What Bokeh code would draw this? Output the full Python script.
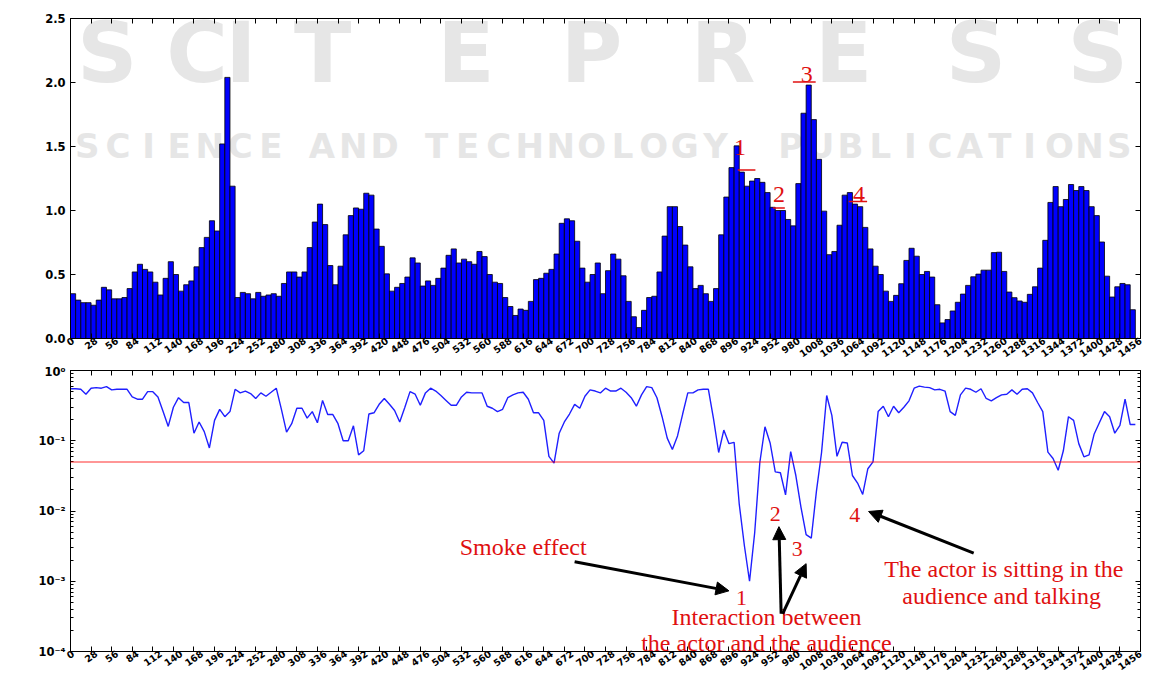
import math
from bokeh.plotting import figure
from bokeh.layouts import column
from bokeh.models import (FixedTicker, LinearAxis, LogAxis, Range1d, Label, Arrow,
                          NormalHead, Span, CustomJSTickFormatter, NumeralTickFormatter)
from bokeh.embed import file_html
from bokeh.resources import INLINE

# ---------------- data ----------------
STEP = 7  # frames per window

bar_values = [
    0.35, 0.30, 0.28, 0.28, 0.26, 0.30, 0.40, 0.38, 0.31, 0.31,
    0.32, 0.39, 0.52, 0.58, 0.54, 0.52, 0.44, 0.34, 0.47, 0.60,
    0.50, 0.37, 0.42, 0.45, 0.56, 0.71, 0.79, 0.92, 0.84, 1.52,
    2.04, 1.19, 0.32, 0.36, 0.35, 0.31, 0.36, 0.33, 0.34, 0.35,
    0.33, 0.43, 0.52, 0.52, 0.48, 0.52, 0.71, 0.91, 1.05, 0.89,
    0.57, 0.42, 0.565, 0.81, 0.96, 1.02, 1.01, 1.135, 1.12, 0.855,
    0.72, 0.505, 0.37, 0.40, 0.43, 0.48, 0.63, 0.59, 0.41, 0.45,
    0.415, 0.47, 0.55, 0.65, 0.70, 0.59, 0.62, 0.60, 0.58, 0.68,
    0.64, 0.50, 0.44, 0.43, 0.32, 0.25, 0.18, 0.23, 0.22, 0.29,
    0.46, 0.47, 0.51, 0.54, 0.66, 0.90, 0.935, 0.92, 0.76, 0.55,
    0.44, 0.50, 0.59, 0.35, 0.53, 0.66, 0.62, 0.49, 0.29, 0.17,
    0.085, 0.22, 0.32, 0.33, 0.52, 0.80, 1.03, 1.03, 0.875, 0.73,
    0.56, 0.39, 0.415, 0.35, 0.29, 0.39, 0.81, 1.105, 1.335, 1.505,
    1.30, 1.19, 1.23, 1.25, 1.22, 1.14, 1.025, 1.0, 1.0, 0.93,
    0.88, 1.21, 1.76, 1.98, 1.71, 1.40, 0.995, 0.655, 0.68, 0.885,
    1.12, 1.14, 1.05, 1.03, 0.868, 0.70, 0.565, 0.50, 0.37, 0.29,
    0.337, 0.428, 0.61, 0.705, 0.643, 0.50, 0.524, 0.48, 0.264, 0.122,
    0.148, 0.215, 0.283, 0.347, 0.415, 0.482, 0.503, 0.534, 0.534, 0.671,
    0.674, 0.524, 0.363, 0.319, 0.293, 0.283, 0.345, 0.404, 0.55, 0.767,
    1.063, 1.187, 1.03, 1.086, 1.203, 1.156, 1.187, 1.156, 1.03, 0.96,
    0.754, 0.487, 0.324, 0.404, 0.43, 0.42, 0.225,
]

line_values = [
    0.55, 0.55, 0.54, 0.46, 0.56, 0.57, 0.56, 0.59, 0.53, 0.54,
    0.54, 0.54, 0.42, 0.39, 0.39, 0.50, 0.50, 0.42, 0.26, 0.16,
    0.30, 0.41, 0.35, 0.35, 0.128, 0.185, 0.135, 0.079, 0.195, 0.28,
    0.22, 0.26, 0.54, 0.48, 0.51, 0.47, 0.40, 0.48, 0.43, 0.49,
    0.56, 0.28, 0.133, 0.175, 0.29, 0.29, 0.21, 0.26, 0.18, 0.375,
    0.236, 0.236, 0.175, 0.10, 0.10, 0.163, 0.063, 0.072, 0.24, 0.25,
    0.33, 0.40, 0.33, 0.27, 0.185, 0.30, 0.50, 0.46, 0.32, 0.48,
    0.56, 0.51, 0.44, 0.375, 0.32, 0.32, 0.42, 0.49, 0.48, 0.48,
    0.48, 0.31, 0.29, 0.26, 0.28, 0.41, 0.45, 0.48, 0.49, 0.39,
    0.25, 0.25, 0.195, 0.060, 0.048, 0.128, 0.185, 0.24, 0.33, 0.29,
    0.43, 0.53, 0.51, 0.48, 0.56, 0.51, 0.51, 0.56, 0.49, 0.41,
    0.31, 0.45, 0.59, 0.57, 0.41, 0.22, 0.109, 0.075, 0.117, 0.24,
    0.48, 0.48, 0.53, 0.54, 0.54, 0.205, 0.068, 0.142, 0.091, 0.095,
    0.0125, 0.0032, 0.001, 0.0049, 0.049, 0.158, 0.093, 0.036, 0.035, 0.017,
    0.070, 0.032, 0.0113, 0.0046, 0.0041, 0.019, 0.068, 0.44, 0.23, 0.060,
    0.095, 0.093, 0.032, 0.025, 0.0172, 0.040, 0.050, 0.26, 0.31, 0.22,
    0.31, 0.25, 0.30, 0.37, 0.56, 0.60, 0.58, 0.57, 0.53, 0.54,
    0.51, 0.26, 0.23, 0.45, 0.56, 0.54, 0.49, 0.55, 0.40, 0.37,
    0.41, 0.45, 0.46, 0.53, 0.46, 0.54, 0.55, 0.48, 0.35, 0.26,
    0.069, 0.056, 0.038, 0.072, 0.22, 0.195, 0.091, 0.059, 0.063, 0.125,
    0.18, 0.26, 0.22, 0.128, 0.166, 0.39, 0.17, 0.17,
]

TICK_STEP = 28
x_ticks = list(range(0, 1457, TICK_STEP))
y1_ticks = [0.0, 0.5, 1.0, 1.5, 2.0, 2.5]
y2_ticks = [1e-4, 1e-3, 1e-2, 1e-1, 1.0]
threshold = 0.05

# numbered markers of the upper chart (data coordinates)
peak_labels = ["1", "2", "3", "4"]
peak_label_x = [911, 964, 1002, 1073]
peak_label_y = [1.495, 1.126, 2.063, 1.126]
peak_line_x0 = [908, 956, 983, 1059]
peak_line_x1 = [932, 972, 1014, 1084]
peak_line_y = [1.316, 1.019, 2.003, 1.07]

# annotations of the lower chart (data coordinates)
note_texts = ["Smoke effect", "1", "Interaction between", "the actor and the audience",
              "2", "3", "4", "The actor is sitting in the", "audience and talking"]
note_x = [616, 913, 947, 947, 959, 989, 1067, 1270, 1267]
note_y = [0.0031, 0.00057, 0.000313, 0.000131, 0.0091, 0.00291, 0.00867, 0.00147, 0.000608]
note_size = ["24px", "22px", "24px", "24px", "22px", "22px", "22px", "24px", "24px"]

arrow_x0 = [686, 967, 969, 1229]
arrow_y0 = [0.0019, 0.000344, 0.000344, 0.00252]
arrow_x1 = [896, 964, 1001, 1086]
arrow_y1 = [0.00073, 0.00599, 0.00178, 0.00984]

# ---------------- layout constants ----------------
W = 1167
FL, FW = 69, 1074            # upper frame left / width
FT1, FH1, FB1 = 18, 320, 26  # upper frame top / height / bottom border
H1 = FT1 + FH1 + FB1
FL2, FW2 = 70, 1070          # lower frame left / width
FT2, FB2 = 6, 26
H2 = 677 - H1
TICK_FONT = "DejaVu Sans"
XLAB_PX = 9.5
ANGLE = 0.62
EDGE_LABELS = 8              # labels near the right edge whose shift tapers off
RED = "#e01010"
SERIF = "Liberation Serif"

bar_left = [STEP * i for i in range(len(bar_values))]
bar_right = [b + STEP for b in bar_left]
line_x = [STEP * i for i in range(len(line_values))]


def blank_fmt():
    return CustomJSTickFormatter(code="return '';")


def style_axis(ax, show_labels=True, size="10px", minor=False):
    ax.axis_line_color = "black"
    ax.axis_line_width = 1
    ax.major_tick_line_color = "black"
    ax.major_tick_in = 5
    ax.major_tick_out = 0
    ax.minor_tick_line_color = "black"
    ax.minor_tick_in = 3 if minor else 0
    ax.minor_tick_out = 0
    ax.major_label_text_font = TICK_FONT
    ax.major_label_text_font_style = "bold"
    ax.major_label_text_font_size = size
    ax.major_label_text_color = "black"
    if not show_labels:
        ax.formatter = blank_fmt()
        ax.major_label_standoff = 0
        ax.major_label_text_font_size = "0px"


def add_x_labels(p, frame_w):
    # labels centred under their ticks: Bokeh anchors rotated labels at their end,
    # so a label-only axis is placed half a rotated label width to the right;
    # close to the right edge the shift tapers off so the last label stays in range.
    pos = []
    n = len(x_ticks)
    for i, t in enumerate(x_ticks):
        half_px = 0.5 * len(str(t)) * 0.696 * XLAB_PX * math.cos(ANGLE)
        j = n - 1 - i
        if j < EDGE_LABELS:
            half_px *= j / EDGE_LABELS
        pos.append(min(t + half_px * 1456.0 / frame_w, 1456))
    lab = LinearAxis(ticker=FixedTicker(ticks=pos),
                     formatter=CustomJSTickFormatter(
                         code="return String(Math.floor(tick / %d + 1e-6) * %d);" % (TICK_STEP, TICK_STEP)))
    style_axis(lab, size="%.1fpx" % XLAB_PX)
    lab.axis_line_color = None
    lab.major_tick_in = 0
    lab.major_tick_out = 0
    lab.major_label_orientation = ANGLE
    lab.major_label_standoff = 1
    p.add_layout(lab, "below")


# ---------------- upper chart: bars ----------------
p1 = figure(width=W, height=H1, x_range=Range1d(0, 1456), y_range=Range1d(0, 2.5),
            output_backend="svg", toolbar_location=None,
            min_border_left=FL, min_border_right=W - FL - FW,
            min_border_top=FT1, min_border_bottom=FB1)
p1.xgrid.visible = False
p1.ygrid.visible = False
p1.outline_line_color = "black"
p1.background_fill_color = "white"
p1.border_fill_color = "white"


# faint publisher watermark, kept inside the plotting area (page pixel positions)
def px_x(px):
    return (px - FL) * 1456.0 / FW


def px_y(py):
    return (FT1 + FH1 - py) * 2.5 / FH1


WM = "#e6e6e6"
big_letters = "SCITEPRESS"
big_centers = [106, 196, 240, 322, 466, 592, 724, 845, 978, 1100]
for ch, cx in zip(big_letters, big_centers):
    p1.add_layout(Label(x=px_x(cx), y=px_y(52), text=ch, text_font=TICK_FONT,
                        text_font_style="bold", text_font_size="84px", text_color=WM,
                        text_align="center", text_baseline="middle", level="underlay"))
small_words = [("SCIENCE", 10, 245), ("AND", 267, 370), ("TECHNOLOGY", 393, 733),
               ("PUBLICATIONS", 782, 1175)]
for word, a, b in small_words:
    lw = (b - a) / len(word)
    for k, ch in enumerate(word):
        cx = a + (k + 0.5) * lw
        cx = 86 + (cx - 27) * (1122 - 86) / (1159 - 27)
        p1.add_layout(Label(x=px_x(cx), y=px_y(145), text=ch,
                            text_font=TICK_FONT, text_font_style="bold",
                            text_font_size="34px", text_color=WM, text_align="center",
                            text_baseline="middle", level="underlay"))

p1.quad(left=bar_left, right=bar_right, bottom=0, top=bar_values,
        fill_color="#0000ff", line_color="black", line_width=0.8)

p1.segment(x0=peak_line_x0, y0=peak_line_y, x1=peak_line_x1, y1=peak_line_y,
           line_color=RED, line_width=1.5)
for t, x, y in zip(peak_labels, peak_label_x, peak_label_y):
    p1.add_layout(Label(x=x, y=y, text=t, text_font=SERIF, text_font_size="24px",
                        text_color=RED, text_align="center", text_baseline="middle"))

ax = p1.xaxis[0]
ax.ticker = FixedTicker(ticks=x_ticks)
style_axis(ax, show_labels=False)
add_x_labels(p1, FW)
ay = p1.yaxis[0]
ay.ticker = FixedTicker(ticks=y1_ticks)
ay.formatter = NumeralTickFormatter(format="0.0")
style_axis(ay, size="11.5px")
top_ax = LinearAxis(ticker=FixedTicker(ticks=x_ticks))
style_axis(top_ax, show_labels=False)
p1.add_layout(top_ax, "above")
right_ax = LinearAxis(ticker=FixedTicker(ticks=y1_ticks))
style_axis(right_ax, show_labels=False)
p1.add_layout(right_ax, "right")

# ---------------- lower chart: log line ----------------
p2 = figure(width=W, height=H2, x_range=Range1d(0, 1456), y_range=Range1d(1e-4, 1.0),
            y_axis_type="log", output_backend="svg", toolbar_location=None,
            min_border_left=FL2, min_border_right=W - FL2 - FW2,
            min_border_top=FT2, min_border_bottom=FB2)
p2.xgrid.visible = False
p2.ygrid.visible = False
p2.outline_line_color = "black"
p2.background_fill_color = "white"
p2.border_fill_color = "white"

p2.add_layout(Span(location=threshold, dimension="width", line_color="#ff0000",
                   line_alpha=0.55, line_width=1.5))
p2.line(line_x, line_values, line_color="#1f1fff", line_width=1.4)

for t, x, y, s in zip(note_texts, note_x, note_y, note_size):
    p2.add_layout(Label(x=x, y=y, text=t, text_font=SERIF, text_font_size=s,
                        text_color=RED, text_align="center", text_baseline="middle"))
for xa, ya, xb, yb in zip(arrow_x0, arrow_y0, arrow_x1, arrow_y1):
    p2.add_layout(Arrow(end=NormalHead(size=13, fill_color="black", line_color="black"),
                        x_start=xa, y_start=ya, x_end=xb, y_end=yb,
                        line_color="black", line_width=3))

minors = [k * 10.0 ** e for e in range(-4, 0) for k in range(2, 10)]
sup_code = """
const e = Math.round(Math.log(tick) / Math.LN10);
const m = {'-': '\u207b', '0': '\u2070', '1': '\u00b9', '2': '\u00b2', '3': '\u00b3', '4': '\u2074'};
return '10' + String(e).split('').map(c => m[c]).join('');
"""
bx = p2.xaxis[0]
bx.ticker = FixedTicker(ticks=x_ticks)
style_axis(bx, show_labels=False)
add_x_labels(p2, FW2)
by = p2.yaxis[0]
by.ticker = FixedTicker(ticks=y2_ticks, minor_ticks=minors)
by.formatter = CustomJSTickFormatter(code=sup_code)
style_axis(by, size="11.5px", minor=True)
top2 = LinearAxis(ticker=FixedTicker(ticks=x_ticks))
style_axis(top2, show_labels=False)
p2.add_layout(top2, "above")
right2 = LogAxis(ticker=FixedTicker(ticks=y2_ticks, minor_ticks=minors))
style_axis(right2, show_labels=False, minor=True)
p2.add_layout(right2, "right")

layout = column(p1, p2, spacing=0)
open("out.html", "w", encoding="utf-8").write(file_html(layout, INLINE))
